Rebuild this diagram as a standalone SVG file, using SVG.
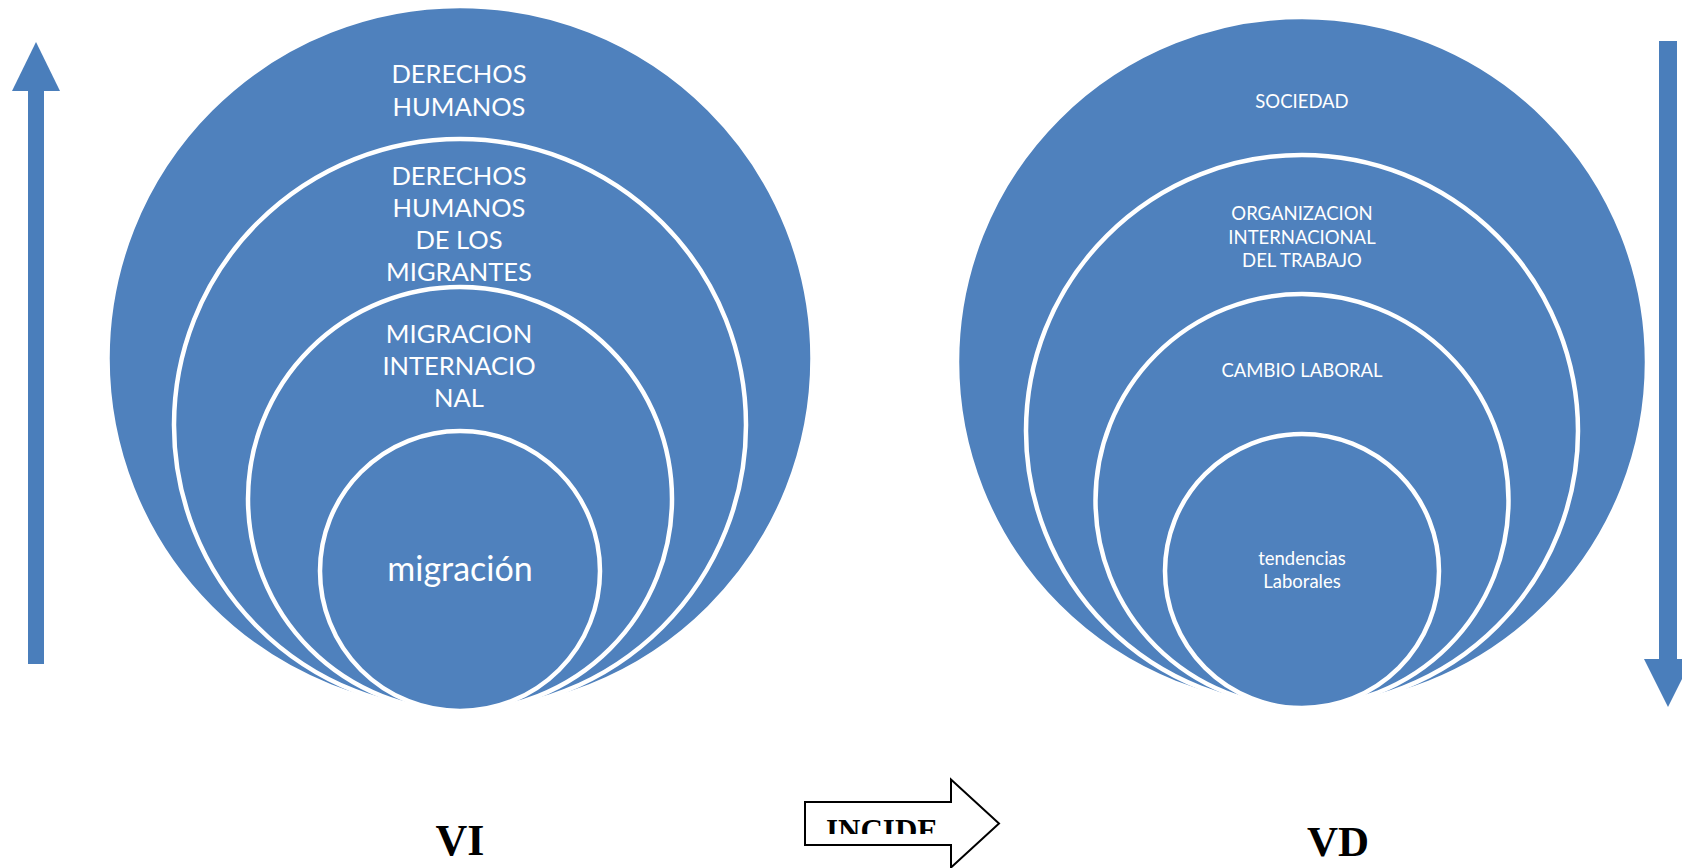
<svg xmlns="http://www.w3.org/2000/svg" width="1682" height="868" viewBox="0 0 1682 868">
<defs>
<style>
.c{fill:#4F81BD;stroke:#FFFFFF;stroke-width:4.5}
.t{fill:#FFFFFF;font-family:Lato,"Open Sans",sans-serif;text-anchor:middle}
.tl{font-size:25.5px}
.tr{font-size:18.5px}
.arr{fill:#4A7EBB}
.lab{font-family:"Liberation Serif","Times New Roman",serif;font-weight:bold;fill:#000000;text-anchor:middle}
</style>
<clipPath id="incClip"><rect x="806" y="803" width="144" height="31"/></clipPath>
</defs>
<rect width="1682" height="868" fill="#FFFFFF"/>

<g id="vi-diagram">
<g id="vi-1">
<circle class="c" cx="460" cy="358.5" r="352.5"/>
<text class="t tl" x="459" y="83.3">DERECHOS</text>
<text class="t tl" x="459" y="115.7">HUMANOS</text>
</g>
<g id="vi-2">
<circle class="c" cx="460" cy="425" r="286"/>
<text class="t tl" x="459" y="185">DERECHOS</text>
<text class="t tl" x="459" y="217">HUMANOS</text>
<text class="t tl" x="459" y="249.3">DE LOS</text>
<text class="t tl" x="459" y="280.5">MIGRANTES</text>
</g>
<g id="vi-3">
<circle class="c" cx="460" cy="499" r="212"/>
<text class="t tl" x="459" y="342.7">MIGRACION</text>
<text class="t tl" x="459" y="375">INTERNACIO</text>
<text class="t tl" x="459" y="406.7">NAL</text>
</g>
<g id="vi-4">
<circle class="c" cx="460" cy="571" r="140"/>
<text class="t" x="460" y="581.3" style="font-size:34px">migración</text>
</g>
</g>

<g id="vd-diagram">
<g id="vd-1">
<circle class="c" cx="1302" cy="362" r="345"/>
<text class="t tr" x="1302" y="108.3">SOCIEDAD</text>
</g>
<g id="vd-2">
<circle class="c" cx="1302" cy="431" r="276"/>
<text class="t tr" x="1302" y="220">ORGANIZACION</text>
<text class="t tr" x="1302" y="243.5">INTERNACIONAL</text>
<text class="t tr" x="1302" y="266.7">DEL TRABAJO</text>
</g>
<g id="vd-3">
<circle class="c" cx="1302" cy="500.5" r="206.5"/>
<text class="t tr" x="1302" y="376.7">CAMBIO LABORAL</text>
</g>
<g id="vd-4">
<circle class="c" cx="1302" cy="571" r="137"/>
<text class="t tr" x="1302" y="564.7">tendencias</text>
<text class="t tr" x="1302" y="588.3">Laborales</text>
</g>
</g>

<g id="connectors">
<g id="arrow-up">
<rect class="arr" x="28" y="90" width="16" height="574"/>
<polygon class="arr" points="12,91 60,91 36,42"/>
</g>
<g id="arrow-down">
<rect class="arr" x="1659" y="41" width="18" height="619"/>
<polygon class="arr" points="1644,659 1692,659 1668,707"/>
</g>
<g id="arrow-incide">
<polygon points="805,802 951,802 951,779.5 999,823.5 951,867.5 951,845 805,845" fill="#FFFFFF" stroke="#000000" stroke-width="2"/>
<text class="lab" x="882" y="841" style="font-size:31px" clip-path="url(#incClip)">INCIDE</text>
</g>
</g>

<g id="labels">
<text class="lab" x="460" y="855" style="font-size:44px">VI</text>
<text class="lab" x="1338" y="855.5" style="font-size:43px">VD</text>
</g>
</svg>
